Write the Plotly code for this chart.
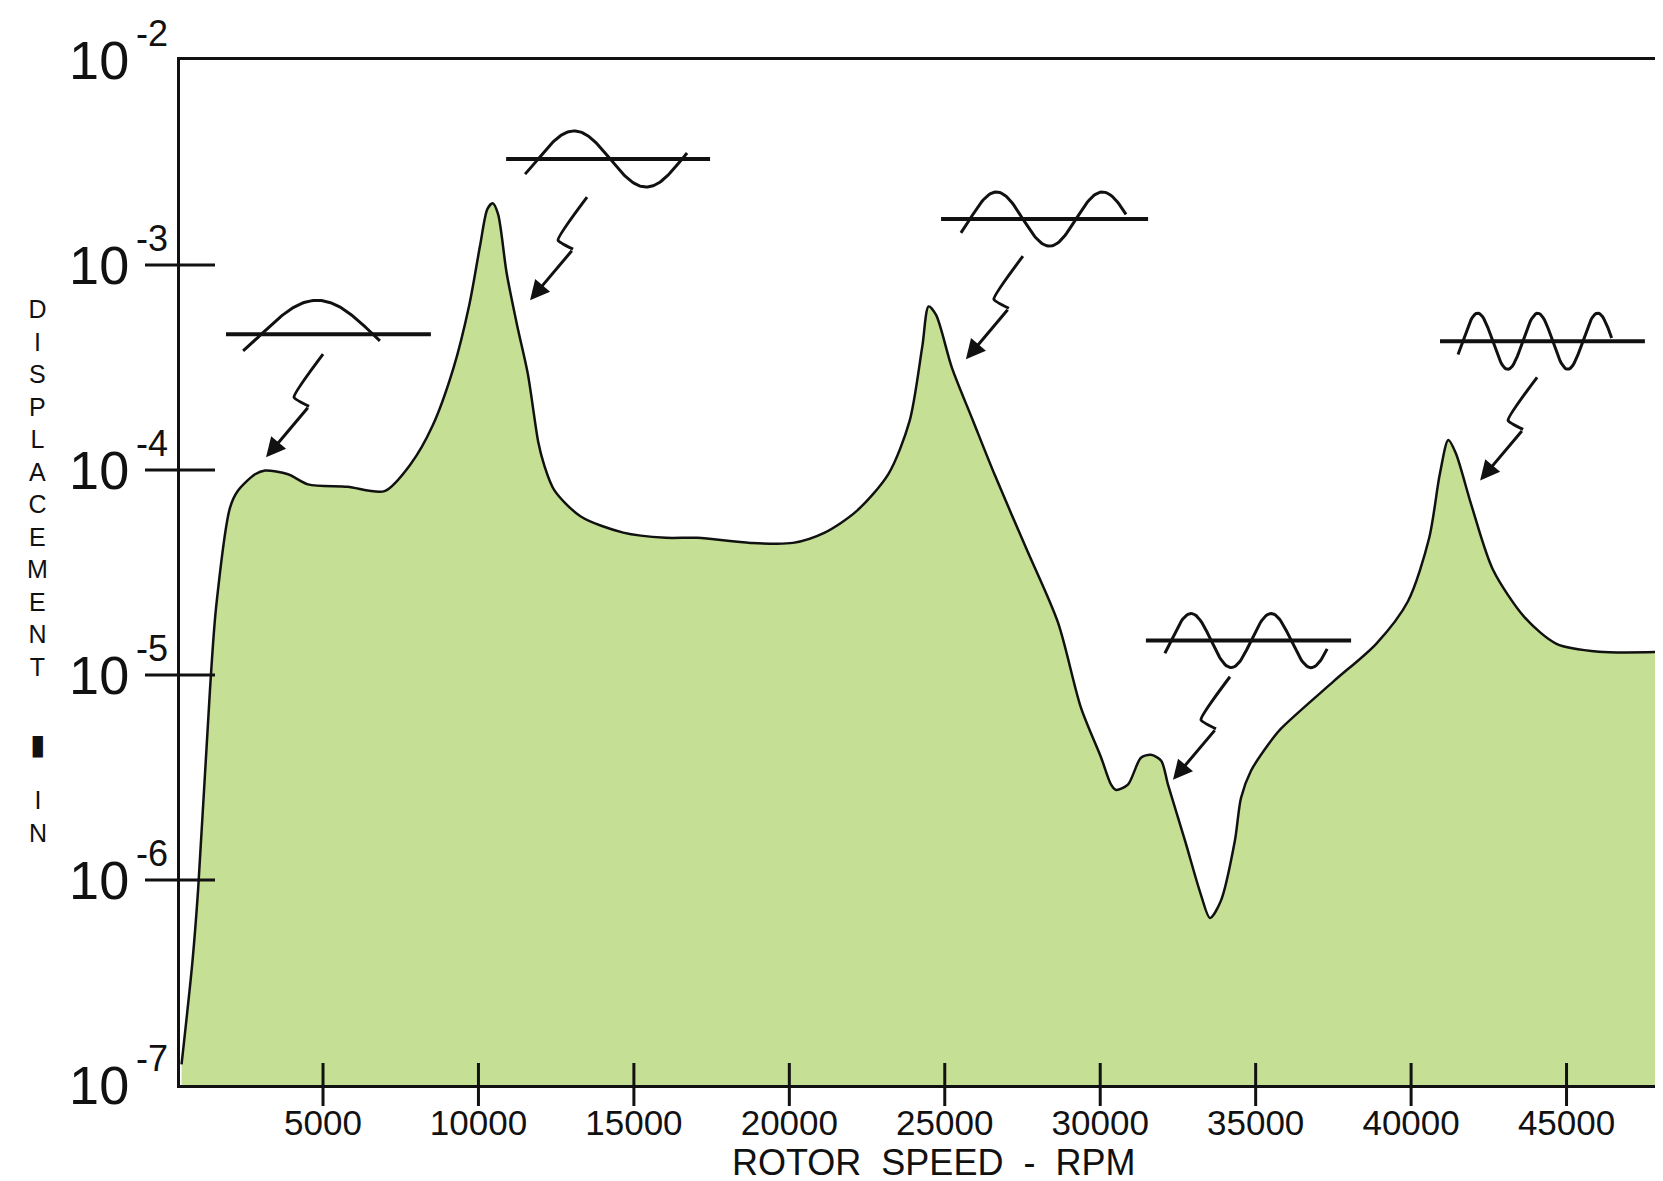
import numpy as np
import plotly.graph_objects as go

# ---------------- data ----------------
rpm = [450, 800, 981, 1367, 1560, 2010, 2268, 2814, 3136, 3876, 4520, 5787, 6980,
       7833, 8516, 9198, 9710, 10051, 10290, 10460, 10631, 10904, 11245, 11586,
       11927, 12098, 12439, 13292, 14656, 16021, 17044, 18750, 20114, 21138,
       22161, 23185, 23867, 24276, 24481, 24720, 25231, 25914, 26596, 27619,
       28643, 29380, 30030, 30350, 30510, 30890, 31310, 31630, 31960, 32180,
       32730, 33240, 33530, 33880, 34330, 34530, 34850, 35400, 35807, 37513,
       38877, 39900, 40583, 40924, 41197, 41436, 41947, 42630, 43653, 44676,
       46041, 48360]
displacement_in = [1.26e-7, 4.0e-7, 8.9e-7, 8.6e-6, 2.13e-5, 6.56e-5, 7.94e-5, 9.53e-5,
                   9.95e-5, 9.53e-5, 8.51e-5, 8.28e-5, 7.89e-5,
                   1.076e-4, 1.633e-4, 3.15e-4, 6.44e-4, 1.24e-3, 1.88e-3, 2.0e-3,
                   1.77e-3, 9.2e-4, 5.07e-4, 2.96e-4,
                   1.36e-4, 1.076e-4, 7.98e-5, 5.93e-5, 4.95e-5, 4.67e-5, 4.67e-5,
                   4.41e-5, 4.41e-5, 4.95e-5,
                   6.3e-5, 9.55e-5, 1.73e-4, 4.0e-4, 6.28e-4, 5.71e-4, 3.15e-4,
                   1.73e-4, 9.55e-5, 4.15e-5,
                   1.80e-5, 6.93e-6, 3.95e-6, 2.92e-6, 2.75e-6, 2.92e-6, 3.95e-6,
                   4.08e-6, 3.82e-6, 2.92e-6,
                   1.55e-6, 8.47e-7, 6.53e-7, 7.91e-7, 1.55e-6, 2.52e-6, 3.41e-6,
                   4.57e-6, 5.46e-6, 9.33e-6,
                   1.42e-5, 2.29e-5, 4.67e-5, 9.55e-5, 1.40e-4, 1.21e-4, 6.68e-5,
                   3.27e-5, 1.91e-5, 1.42e-5,
                   1.30e-5, 1.30e-5]

x_ticks = [5000, 10000, 15000, 20000, 25000, 30000, 35000, 40000, 45000]
x_tick_labels = ["5000", "10000", "15000", "20000", "25000", "30000", "35000", "40000", "45000"]
y_tick_exponents = [-7, -6, -5, -4, -3, -2]
y_marked_exponents = [-6, -5, -4, -3]

# mode-shape sketches (one per critical speed)
mode_line_start_rpm = [1880, 10890, 24880, 31470, 40930]
mode_line_end_rpm = [8470, 17450, 31540, 38070, 47520]
mode_line_level_in = [4.59e-4, 3.29e-3, 1.675e-3, 1.472e-5, 4.246e-4]
mode_wave_start_rpm = [2430, 11500, 25520, 32080, 41510]
mode_wave_end_rpm = [6830, 16710, 30830, 37300, 46450]
mode_first_node_rpm = [3010, 11920, 25810, 32280, 41660]
mode_half_wave_rpm = [3600, 2316, 1705, 1287, 965]
mode_amp_decades = [0.166, 0.137, 0.132, 0.132, 0.137]

arrow_tip_rpm = [3168, 11660, 25680, 32340, 42220]
arrow_tip_in = [1.153e-4, 6.73e-4, 3.467e-4, 3.08e-6, 8.89e-5]

# ---------------- style ----------------
FONT = "Liberation Sans, Arial, sans-serif"
INK = "#111111"
GREEN = "rgb(197,224,148)"
W, H = 1663, 1181
ML, MR, MT, MB = 172, 0, 52, 104
PW, PH = W - ML - MR, H - MT - MB
XR = [400, 48360]

fig = go.Figure()

# baseline for the area fill
fig.add_trace(go.Scatter(x=[rpm[0], rpm[-1]], y=[1e-8, 1e-8], mode="lines",
                         line=dict(width=0, color="rgba(0,0,0,0)"),
                         hoverinfo="skip", showlegend=False))
fig.add_trace(go.Scatter(x=rpm, y=displacement_in, mode="lines",
                         line=dict(color=INK, width=2.5, shape="spline", smoothing=0.8),
                         fill="tonexty", fillcolor=GREEN, showlegend=False))

# mode-shape sketches
for i in range(len(mode_line_start_rpm)):
    lvl = mode_line_level_in[i]
    fig.add_trace(go.Scatter(x=[mode_line_start_rpm[i], mode_line_end_rpm[i]], y=[lvl, lvl],
                             mode="lines", line=dict(color=INK, width=4),
                             hoverinfo="skip", showlegend=False))
    r = np.linspace(mode_wave_start_rpm[i], mode_wave_end_rpm[i], 120)
    wave = lvl * 10 ** (mode_amp_decades[i] *
                        np.sin(np.pi * (r - mode_first_node_rpm[i]) / mode_half_wave_rpm[i]))
    fig.add_trace(go.Scatter(x=r, y=wave, mode="lines", line=dict(color=INK, width=3),
                             hoverinfo="skip", showlegend=False))
    # zig-zag pointer
    tx, ty = arrow_tip_rpm[i], arrow_tip_in[i]
    zx = [tx + 1833, tx + 900, tx + 1383]
    zy = [ty * 10 ** 0.503, ty * 10 ** 0.293, ty * 10 ** 0.249]
    fig.add_trace(go.Scatter(x=zx, y=zy, mode="lines",
                             line=dict(color=INK, width=3, shape="spline", smoothing=0.4),
                             hoverinfo="skip", showlegend=False))
    fig.add_annotation(x=tx, y=np.log10(ty), xref="x", yref="y", ax=43, ay=-51,
                       showarrow=True, arrowhead=2, arrowsize=1.3, arrowwidth=3,
                       arrowcolor=INK, text="")

# tick marks crossing the axes
for v in x_ticks:
    fig.add_shape(type="line", xref="x", yref="paper", x0=v, x1=v,
                  y0=-21 / PH, y1=22 / PH, line=dict(color=INK, width=3))
fig.add_trace(go.Scatter(x=[XR[0]] * len(y_marked_exponents),
                         y=[10.0 ** e for e in y_marked_exponents],
                         mode="markers", cliponaxis=False,
                         marker=dict(symbol="line-ew", size=50,
                                     line=dict(color=INK, width=3)),
                         hoverinfo="skip", showlegend=False))

# exponents of the y tick labels
for e in y_tick_exponents:
    fig.add_annotation(x=-28 / PW, y=e, xref="paper", yref="y", yshift=27,
                       text=str(e), showarrow=False, xanchor="center", yanchor="middle",
                       font=dict(family=FONT, size=36, color=INK))

# stacked y-axis title
fig.add_annotation(x=(29 - ML) / PW, y=(1077 - 480) / PH, xref="paper", yref="paper",
                   text="<br>".join("DISPLACEMENT"), showarrow=False,
                   xanchor="center", yanchor="middle", align="center",
                   font=dict(family=FONT, size=25, color=INK))
fig.add_annotation(x=(29 - ML) / PW, y=(1077 - 737) / PH, xref="paper", yref="paper",
                   text="\u25AE", showarrow=False, xanchor="center", yanchor="middle",
                   font=dict(family="DejaVu Sans", size=28, color=INK))
fig.add_annotation(x=(30 - ML) / PW, y=(1077 - 808) / PH, xref="paper", yref="paper",
                   text="I<br>N", showarrow=False, xanchor="center", yanchor="middle",
                   align="center", font=dict(family=FONT, size=25, color=INK))

# x-axis title
fig.add_annotation(x=(925 - ML) / PW, y=(1077 - 1154) / PH, xref="paper", yref="paper",
                   text="ROTOR\u00a0\u00a0SPEED\u00a0\u00a0-\u00a0\u00a0RPM", showarrow=False,
                   xanchor="center", yanchor="middle",
                   font=dict(family=FONT, size=36, color=INK))

fig.update_layout(
    width=W, height=H,
    margin=dict(l=ML, r=MR, t=MT, b=MB),
    paper_bgcolor="white", plot_bgcolor="white",
    showlegend=False,
    font=dict(family=FONT, color=INK),
    xaxis=dict(range=XR, showgrid=False, zeroline=False,
               showline=True, linecolor=INK, linewidth=3, mirror=True,
               tickmode="array", tickvals=x_ticks, ticktext=x_tick_labels,
               ticks="outside", ticklen=5, tickcolor="rgba(0,0,0,0)",
               tickfont=dict(family=FONT, size=35, color=INK)),
    yaxis=dict(type="log", range=[-7, -2], showgrid=False, zeroline=False,
               showline=True, linecolor=INK, linewidth=3, mirror=False,
               tickmode="array", tickvals=[10.0 ** e for e in y_tick_exponents],
               ticktext=["10"] * len(y_tick_exponents),
               ticks="outside", ticklen=37, tickcolor="rgba(0,0,0,0)",
               tickfont=dict(family=FONT, size=54, color=INK)),
)

fig.write_html("out.html", config={"displayModeBar": False})
